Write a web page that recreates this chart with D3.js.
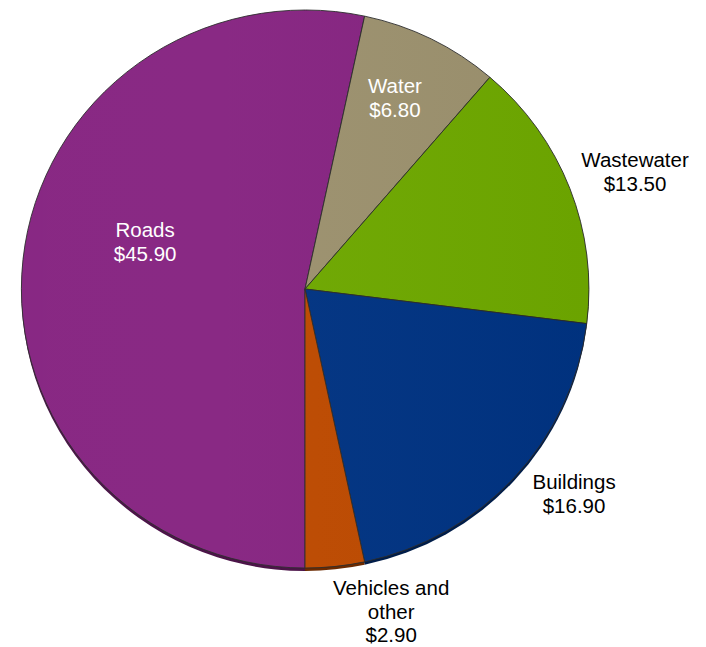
<!DOCTYPE html>
<html>
<head>
<meta charset="utf-8">
<script src="https://cdn.jsdelivr.net/npm/d3@7"></script>
<style>
  html, body { margin: 0; padding: 0; background: #fff; }
  svg { display: block; }
  text { font-family: "Liberation Sans", Arial, sans-serif; font-size: 20.5px; }
</style>
</head>
<body>
<svg id="chart" width="706" height="647"></svg>
<script>
// Spending by asset category (dollars)
const categories = ["Roads", "Water", "Wastewater", "Buildings", "Vehicles and other"];
const values = [45.90, 6.80, 13.50, 16.90, 2.90];
const colors = ["#862481", "#9c916e", "#6ea800", "#003382", "#bd4a00"];
// Label lines per category; inside labels are drawn in white
const labelLines = [["Roads"], ["Water"], ["Wastewater"], ["Buildings"], ["Vehicles and", "other"]];
const labelInside = [true, true, false, false, false];
// Label block centres in unit-radius polar terms: [degrees clockwise from top, radius fraction]
const labelPolar = [[-73.2, 0.588], [24.8, 0.755], [70.1, 1.236], [127.8, 1.199], [165.3, 1.196]];

const svg = d3.select("#chart");
const cx = 305, cy = 289, rx = 284, ry = 279;

const data = categories.map((c, i) => ({ name: c, value: values[i], color: colors[i], lines: labelLines[i], inside: labelInside[i], polar: labelPolar[i] }));

const pie = d3.pie().value(d => d.value).sort(null)
  .startAngle(Math.PI).endAngle(3 * Math.PI);
const arcs = pie(data);
const arc = d3.arc().innerRadius(0).outerRadius(1);

// Pie drawn on a unit circle, then stretched to a slightly oval shape
const root = svg.append("g").attr("transform", `translate(${cx},${cy})`);

// Dark rim under the lower edge
const rim = root.append("g").attr("transform", `translate(0,3) scale(${rx},${ry})`);
rim.selectAll("path").data(arcs).join("path")
  .attr("d", arc)
  .attr("fill", d => d3.color(d.data.color).darker(1.6));

const face = root.append("g").attr("transform", `scale(${rx},${ry})`);
face.selectAll("path").data(arcs).join("path")
  .attr("d", arc)
  .attr("fill", d => d.data.color)
  .attr("stroke", "#2b2b2b")
  .attr("stroke-width", 0.9)
  .attr("vector-effect", "non-scaling-stroke");

// Faint sheen across the face
const defs = svg.append("defs");
const sheen = defs.append("linearGradient").attr("id", "sheen")
  .attr("x1", "0").attr("x2", "1").attr("y1", "0").attr("y2", "0");
sheen.append("stop").attr("offset", "0").attr("stop-color", "#fff").attr("stop-opacity", 0.02);
sheen.append("stop").attr("offset", "0.35").attr("stop-color", "#fff").attr("stop-opacity", 0.025);
sheen.append("stop").attr("offset", "1").attr("stop-color", "#000").attr("stop-opacity", 0.03);
face.append("ellipse").attr("cx", 0).attr("cy", 0).attr("rx", 1).attr("ry", 1)
  .attr("fill", "url(#sheen)").attr("pointer-events", "none");

// Labels
const fmt = d3.format("$.2f");
const lineH = 23.5;
const labels = root.append("g");
data.forEach(d => {
  const a = d.polar[0] * Math.PI / 180, f = d.polar[1];
  const x = Math.sin(a) * f * rx, y = -Math.cos(a) * f * ry;
  const lines = d.lines.concat([fmt(d.value)]);
  const t = labels.append("text")
    .attr("text-anchor", "middle")
    .attr("fill", d.inside ? "#ffffff" : "#000000");
  const y0 = y - (lines.length - 1) * lineH / 2;
  lines.forEach((s, i) => {
    t.append("tspan").attr("x", x).attr("y", y0 + i * lineH).attr("dy", "0.35em").text(s);
  });
});
</script>
</body>
</html>
